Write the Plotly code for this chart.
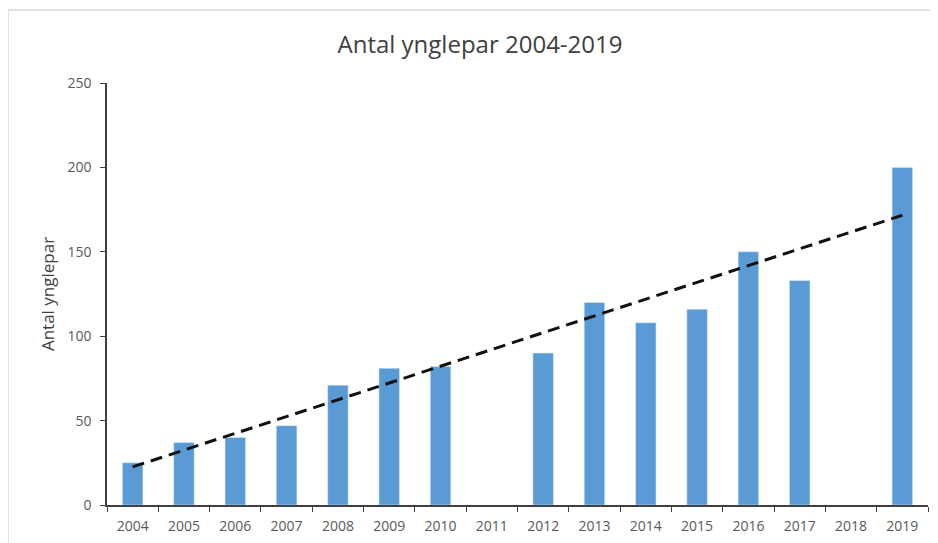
import numpy as np
import plotly.graph_objects as go

years = ["2004", "2005", "2006", "2007", "2008", "2009", "2010", "2011",
         "2012", "2013", "2014", "2015", "2016", "2017", "2018", "2019"]
pairs = [25, 37, 40, 47, 71, 81, 82, None, 90, 120, 108, 116, 150, 133, None, 200]
y_ticks = [0, 50, 100, 150, 200, 250]

# linear trendline (Excel style, blanks skipped)
idx = np.arange(len(years))
mask = np.array([v is not None for v in pairs])
vals = np.array([v if v is not None else 0 for v in pairs], dtype=float)
slope, intercept = np.polyfit(idx[mask], vals[mask], 1)
trend = slope * idx + intercept

fig = go.Figure()
fig.add_trace(go.Bar(x=years, y=pairs, marker_color="#5B9BD5", width=0.4,
                     showlegend=False))
fig.add_trace(go.Scatter(x=years, y=trend, mode="lines",
                         line=dict(color="#111111", width=3, dash="12px,7px"),
                         showlegend=False))

# outer chart frame
fig.add_shape(type="rect", xref="paper", yref="paper",
              x0=-0.1206, x1=1.2, y0=-0.3, y1=1.173,
              line=dict(color="#D9D9D9", width=1.5), layer="below")

fig.update_layout(
    width=938, height=543,
    margin=dict(l=99, r=18, t=75, b=46),
    paper_bgcolor="white", plot_bgcolor="white",
    font=dict(family="Open Sans, Liberation Sans, sans-serif", color="#595959", size=14),
    title=dict(text="Antal ynglepar 2004-2019", x=472/938, xanchor="center",
               y=1 - 37/543, yanchor="middle",
               font=dict(size=24, color="#404040")),
    bargap=0.6,
)
fig.update_xaxes(type="category", showline=True, linecolor="#404040", linewidth=1.5,
                 ticks="outside", tickson="boundaries", ticklen=5, tickcolor="#404040",
                 showgrid=False, ticklabelstandoff=7,
                 tickfont=dict(size=14, color="#595959"))
fig.update_yaxes(range=[0, 250], tickvals=y_ticks, showline=True, linecolor="#404040",
                 linewidth=1.5, ticks="outside", ticklen=5, tickcolor="#404040",
                 showgrid=False, zeroline=False, ticklabelstandoff=6,
                 title=dict(text="Antal ynglepar", font=dict(size=17, color="#404040"), standoff=8),
                 tickfont=dict(size=14, color="#595959"))

fig.write_html("out.html")
